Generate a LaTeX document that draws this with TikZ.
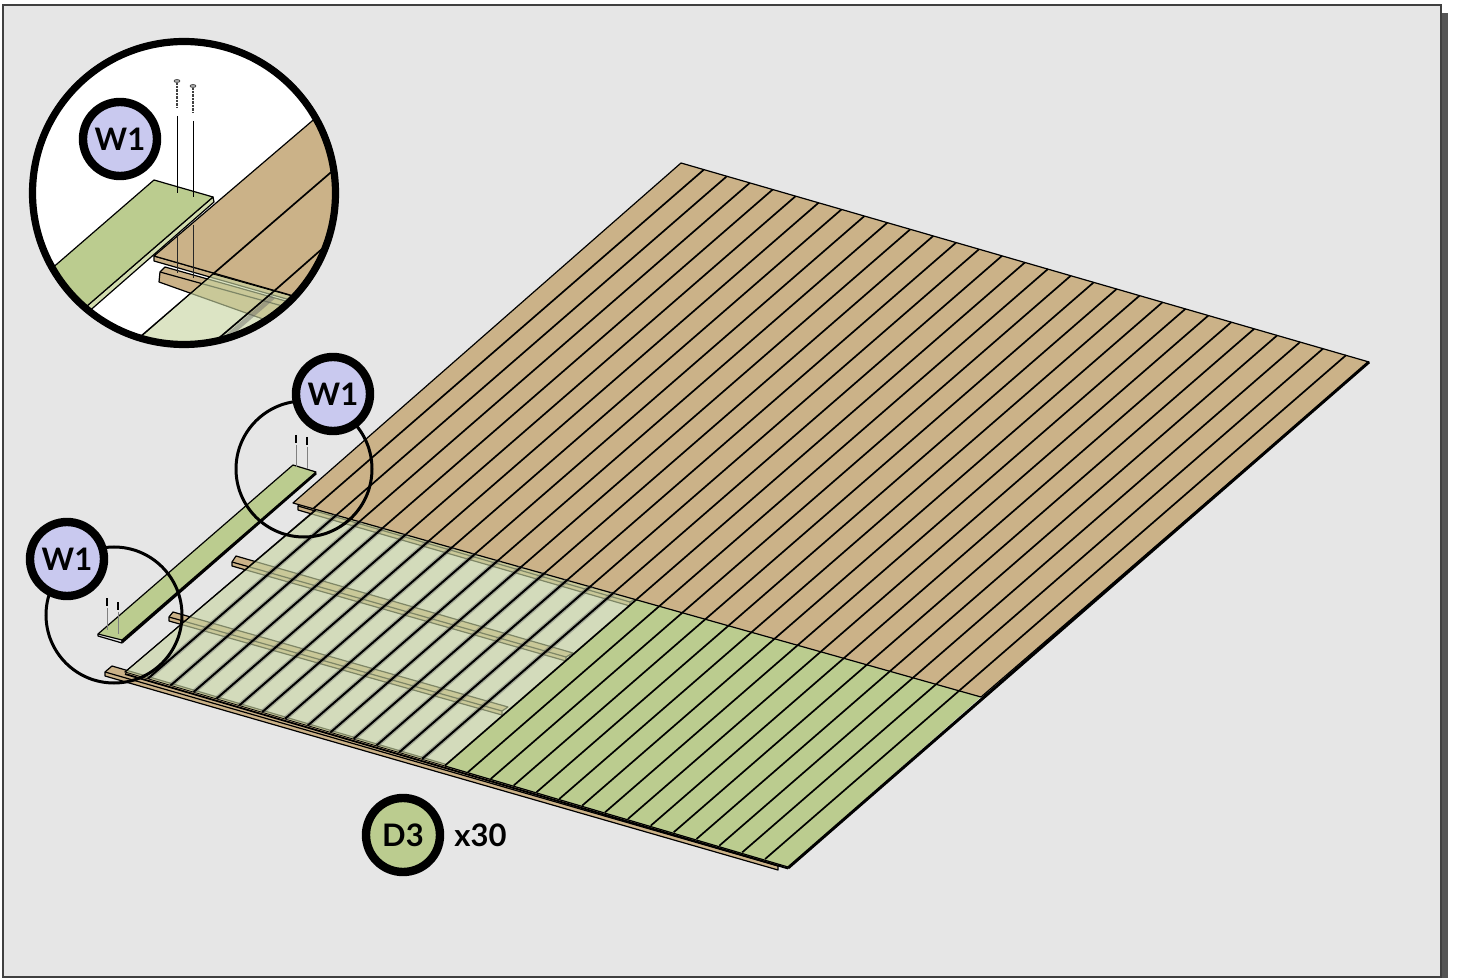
\documentclass[tikz,border=0pt]{standalone}
\usepackage{fontspec}
\setmainfont{Lato}
\definecolor{panel}{HTML}{E6E6E6}
\definecolor{frameshadow}{HTML}{555555}
\definecolor{woodtan}{HTML}{CBB288}
\definecolor{deckgreen}{HTML}{BBCC8F}
\definecolor{ghostgreen}{HTML}{C8D5A2}
\definecolor{sidegreen}{HTML}{D3DDB0}
\definecolor{badgeblue}{HTML}{C9C9EF}
\tikzset{
  plankline/.style={black,line width=0.85pt},
  ghostline/.style={black,line width=1pt},
  ghosthalo/.style={black!60,opacity=0.4,line width=2.4pt},
  partedge/.style={black,line width=0.6pt,line join=round},
  ghostfill/.style={fill=ghostgreen,fill opacity=0.63},
  badge/.style={circle,draw=black,line width=4.2pt,minimum size=37pt,inner sep=0pt,font=\fontsize{15.5}{18}\selectfont\bfseries},
  detailring/.style={black,line width=1.5pt},
  pilot/.style={black!50,line width=0.4pt},
  screwshaft/.style={black!75,line width=1.3pt,dash pattern=on 0.5pt off 0.2pt},
}
\begin{document}
\begin{tikzpicture}[x=0.5pt,y=-0.5pt]
\useasboundingbox (0,0) rectangle (1457,978);
\fill[frameshadow] (1441,13) rectangle (1448,978);
\draw[draw=black!75,fill=panel,line width=0.6pt] (3,5) rectangle (1441,977);
\foreach \lx/\ly/\tx/\ty/\rx/\ry/\mx/\my in {105/672/112/666/784/864/778/866,169/617/173/612/508/707/502/711,232/562/236/556/573/653/566/657,298/506/302/501/637/598/630/602}{
  \draw[partedge,fill=woodtan] (\lx,\ly) -- (\tx,\ty) -- (\rx,\ry) -- (\mx,\my) -- (\mx,\my+4) -- (\lx,\ly+4) -- cycle;
  \draw[partedge] (\lx,\ly) -- (\mx,\my);
}
\draw[ghostfill] (316,509) -- (638,599) -- (445,766) -- (125,672) -- cycle;
\draw[black,line width=0.9pt] (125,674) -- (788,868.5);
\fill[deckgreen] (638,599) -- (981,697) -- (788,867) -- (445,766) -- cycle;
\draw[partedge,fill=woodtan] (293,503) -- (681,163) -- (1369,362) -- (981,697) -- cycle;
\draw[partedge] (445,766) -- (788,867);
\draw[black,line width=1.5pt] (1369,362) -- (788,868);
\foreach \i in {15,...,29}
  \draw[plankline] ({681+\i*22.93},{163+\i*6.63}) -- ({125+(\i-1)*22.86},{672+(\i-1)*6.68});
\begin{scope}
\clip (293,503) -- (681,163) -- (1369,362) -- (981,697) -- cycle;
\foreach \i in {1,...,14}
  \draw[plankline] ({681+\i*22.93},{163+\i*6.63}) -- ({125+(\i-1)*22.86},{672+(\i-1)*6.68});
\end{scope}
\begin{scope}
\clip (316,509) -- (638,599) -- (445,766) -- (125,672) -- cycle;
\foreach \i in {2,...,14}{
  \draw[ghosthalo] ({681+\i*22.93},{163+\i*6.63}) -- ({125+(\i-1)*22.86},{672+(\i-1)*6.68});
  \draw[ghostline] ({681+\i*22.93},{163+\i*6.63}) -- ({125+(\i-1)*22.86},{672+(\i-1)*6.68});
}
\end{scope}
\draw[partedge] (316,510) -- (125,672);
\draw[black,line width=1.4pt] (316,473) -- (122,642);
\draw[partedge,fill=deckgreen] (293,465) -- (316,472) -- (122,640) -- (98,634) -- cycle;
\draw[partedge] (98,634) -- (98,636) -- (122,643) -- (122,640);
\foreach \hx/\hy in {296/435,307/437,107/598,118/602}{
  \draw[pilot] (\hx,\hy+10) -- (\hx,\hy+32);
  \draw[black,line width=0.8pt] (\hx,\hy) -- (\hx,\hy+8);
}
\draw[detailring] (304,469) circle (68);
\draw[detailring] (114,615) circle (68);
\node[badge,fill=badgeblue] (wonetop) at (333,394) {W1};
\node[badge,fill=badgeblue] (woneleft) at (67,559) {W1};
\node[badge,fill=deckgreen] (dthree) at (403,835) {D3};
\node[right,font=\fontsize{15.5}{18}\selectfont\bfseries,inner sep=0pt] (dcount) at (454,835) {x30};
\begin{scope}
\clip (184,193) circle (151.5);
\fill[white] (0,0) rectangle (400,400);
\draw[partedge,fill=woodtan] (160,272) -- (165,267) -- (360,322) -- (350,350) -- (159,282) -- cycle;
\draw[partedge] (160,272) -- (340,322);
\draw[partedge,fill=woodtan] (154,256) -- (154,261) -- (360,320) -- (360,315) -- cycle;
\draw[ghostfill] (213,274) -- (360,315) -- (330,370) -- (120,355) -- cycle;
\draw[partedge,fill=woodtan] (380,63) -- (154,256) -- (360,315) -- (400,300) -- cycle;
\draw[partedge] (213,274) -- (120,354);
\draw[plankline] (380,130) -- (213,274);
\draw[plankline] (380,198) -- (273,292);
\draw[ghosthalo,opacity=0.45] (273,297) -- (215,347);
\draw[plankline] (273,292) -- (205,350);
\foreach \sx/\sc/\sd in {177/237/273,193/225/278}{
  \draw[black!85,line width=0.5pt] (\sx,\sc) -- (\sx,\sd);
}
\draw[partedge,fill=sidegreen] (213,197) -- (214,202) -- (54,342) -- (50,338) -- cycle;
\draw[partedge,fill=deckgreen] (154,180) -- (213,197) -- (50,338) -- (20,296) -- cycle;
\foreach \sx/\sa/\sb in {177/116/193,193/121/197}
  \draw[black,line width=0.5pt] (\sx,\sa) -- (\sx,\sb);
\foreach \hx/\hy in {177/81,193/86}{
  \draw[screwshaft] (\hx,\hy+2) -- (\hx,\hy+27);
  \draw[black!75,fill=black!35,line width=0.3pt] (\hx,\hy) ellipse (3 and 1.5);
}
\end{scope}
\draw[black,line width=3.6pt] (184,193) circle (151.5);
\node[badge,fill=badgeblue] (wonedetail) at (120,139) {W1};
\end{tikzpicture}
\end{document}
